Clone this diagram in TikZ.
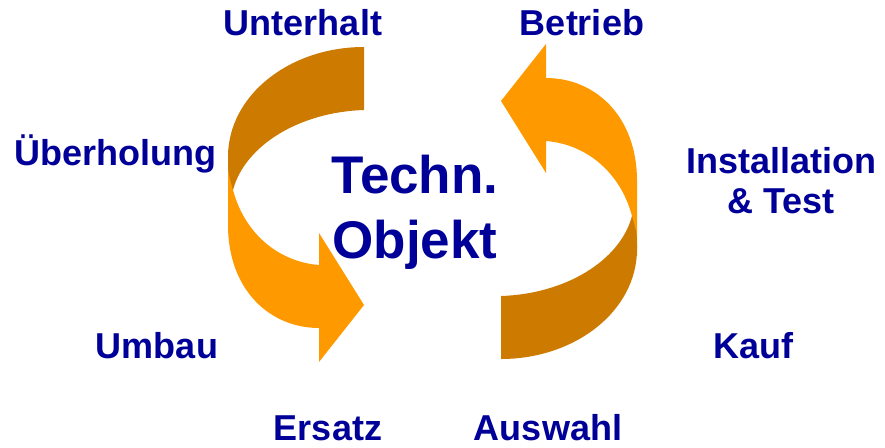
\documentclass[tikz,border=0pt]{standalone}
\usepackage{fontspec}
\setmainfont{Liberation Sans}
\usepackage{tikz}
\usepackage{xcolor}
\definecolor{stageblue}{RGB}{0,0,153}
\definecolor{ribbondark}{RGB}{204,122,0}
\definecolor{ribbonlight}{RGB}{255,153,0}
\tikzset{x=1pt, y=-1pt,
 stage/.style={anchor=base, inner sep=0pt, text=stageblue, font=\fontsize{36}{40}\selectfont\bfseries},
 centre/.style={align=center, inner sep=0pt, text=stageblue, font=\fontsize{53}{65}\selectfont\bfseries},
 }

% one half of the cycle: twisted ribbon ending in an arrow head
\newcommand{\halfturn}{%
  \fill[ribbonlight] (228,150) -- (228,225) .. controls (228,290) and (270,328) .. (319,328)
    -- (319,362) -- (364,305) -- (319,233) -- (319,265)
    .. controls (280,262) and (245,235) .. (233,190) -- (229,150) -- cycle;
  \fill[ribbondark] (364,47) .. controls (290,47) and (228,95) .. (228,157)
    .. controls (228,172) .. (233,190)
    .. controls (245,145) and (300,112) .. (364,110) -- cycle;
}

\begin{document}
\begin{tikzpicture}
    \useasboundingbox (0,0) rectangle (885,447);
        \halfturn
        \begin{scope}[xshift=3pt, rotate around={180:(431,203)}]
            \halfturn
        \end{scope}
        \node[centre] (objekt) at (415,212) {Techn.\\Objekt};
        \node[stage] (unterhalt) at (303,35) {Unterhalt};
        \node[stage] (betrieb) at (582,35) {Betrieb};
        \node[stage] (ueberholung) at (115,165) {Überholung};
        \node[stage] (installation) at (781,173) {Installation};
        \node[stage] (test) at (781,213) {\& Test};
        \node[stage] (umbau) at (157,358) {Umbau};
        \node[stage] (kauf) at (753,358) {Kauf};
        \node[stage] (ersatz) at (328,440) {Ersatz};
        \node[stage] (auswahl) at (548,440) {Auswahl};
    \end{tikzpicture}
\end{document}
